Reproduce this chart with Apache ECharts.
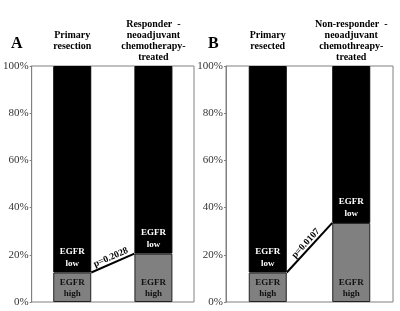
<!DOCTYPE html>
<html>
<head>
<meta charset="utf-8">
<script src="https://cdn.jsdelivr.net/npm/echarts@6/dist/echarts.min.js"></script>
<style>
  html, body { margin: 0; padding: 0; background: #fff; }
  #chart { width: 400px; height: 311px; }
</style>
</head>
<body>
<div id="chart"></div>
<script>
// 数据
const categoriesA = ["Primary\nresection", "Responder  -\nneoadjuvant\nchemotherapy-\ntreated"];
const categoriesB = ["Primary\nresected", "Non-responder  -\nneoadjuvant\nchemothreapy-\ntreated"];
const highA = [12.5, 20.5];
const highB = [12.5, 33.5];
const pValueA = "p=0.2028";
const pValueB = "p=0.0107";
const yTicks = [0, 20, 40, 60, 80, 100];

const FONT = "'Liberation Serif', 'Times New Roman', serif";
const BAR_W = 38;

// 100% 堆叠, low = 100 - high
const lowOf = arr => arr.map(v => 100 - v);

// 两柱之间的 p 值连线
function pLine(gridIdx, high, text) {
  return {
    type: "custom",
    xAxisIndex: gridIdx,
    yAxisIndex: gridIdx,
    z: 10,
    data: [[0, high[0], 1, high[1]]],
    renderItem(params, api) {
      const p1 = api.coord([api.value(0), api.value(1)]);
      const p2 = api.coord([api.value(2), api.value(3)]);
      const x1 = p1[0] + BAR_W / 2, y1 = p1[1];
      const x2 = p2[0] - BAR_W / 2, y2 = p2[1];
      const ang = Math.atan2(y1 - y2, x2 - x1);
      return {
        type: "group",
        children: [
          {
            type: "line",
            shape: { x1, y1, x2, y2 },
            style: { stroke: "#000", lineWidth: 2 }
          },
          {
            type: "text",
            x: (x1 + x2) / 2,
            y: (y1 + y2) / 2 - 1,
            rotation: ang,
            style: {
              text,
              fill: "#000",
              font: "bold 9.5px " + FONT,
              align: "center",
              verticalAlign: "bottom"
            }
          }
        ]
      };
    }
  };
}

function barSeries(gridIdx, high) {
  return [
    {
      type: "bar",
      xAxisIndex: gridIdx,
      yAxisIndex: gridIdx,
      stack: "s" + gridIdx,
      barWidth: BAR_W,
      data: high,
      itemStyle: { color: "#808080", borderColor: "#222", borderWidth: 1 },
      label: {
        show: true,
        position: "insideBottom",
        distance: 3,
        formatter: "EGFR\nhigh",
        color: "#111",
        fontFamily: FONT,
        fontWeight: "bold",
        fontSize: 9,
        lineHeight: 11
      }
    },
    {
      type: "bar",
      xAxisIndex: gridIdx,
      yAxisIndex: gridIdx,
      stack: "s" + gridIdx,
      barWidth: BAR_W,
      data: lowOf(high),
      itemStyle: { color: "#000", borderColor: "#000", borderWidth: 1 },
      label: {
        show: true,
        position: "insideBottom",
        distance: 3,
        formatter: "EGFR\nlow",
        color: "#fff",
        fontFamily: FONT,
        fontWeight: "bold",
        fontSize: 9,
        lineHeight: 12
      }
    }
  ];
}

function xAxisOf(gridIdx, cats) {
  return {
    type: "category",
    gridIndex: gridIdx,
    data: cats,
    position: "top",
    axisLine: { show: false },
    axisTick: { show: false },
    axisLabel: {
      interval: 0,
      margin: 25,
      verticalAlign: "middle",
      color: "#000",
      fontFamily: FONT,
      fontWeight: "bold",
      fontSize: 10,
      lineHeight: 11
    }
  };
}

function yAxisOf(gridIdx) {
  return {
    type: "value",
    gridIndex: gridIdx,
    min: yTicks[0],
    max: yTicks[yTicks.length - 1],
    interval: 20,
    axisLine: { show: true, lineStyle: { color: "#808080", width: 1 } },
    axisTick: { show: true, length: 2, lineStyle: { color: "#808080" } },
    splitLine: { show: false },
    axisLabel: {
      formatter: "{value}%",
      margin: 3,
      color: "#333",
      fontFamily: FONT,
      fontSize: 11
    }
  };
}

const chart = echarts.init(document.getElementById("chart"));
chart.setOption({
  animation: false,
  title: [
    { text: "A", left: 6, top: 31, textStyle: { fontFamily: FONT, fontWeight: "bold", fontSize: 16, color: "#000" } },
    { text: "B", left: 203, top: 31, textStyle: { fontFamily: FONT, fontWeight: "bold", fontSize: 16, color: "#000" } }
  ],
  grid: [
    { left: 29, right: 206, top: 66, bottom: 9, show: true, borderColor: "#808080", borderWidth: 1, backgroundColor: "transparent" },
    { left: 226, right: 7, top: 66, bottom: 9, show: true, borderColor: "#808080", borderWidth: 1, backgroundColor: "transparent" }
  ],
  xAxis: [xAxisOf(0, categoriesA), xAxisOf(1, categoriesB)],
  yAxis: [yAxisOf(0), yAxisOf(1)],
  series: [
    ...barSeries(0, highA),
    ...barSeries(1, highB),
    pLine(0, highA, pValueA),
    pLine(1, highB, pValueB)
  ]
});
</script>
</body>
</html>
